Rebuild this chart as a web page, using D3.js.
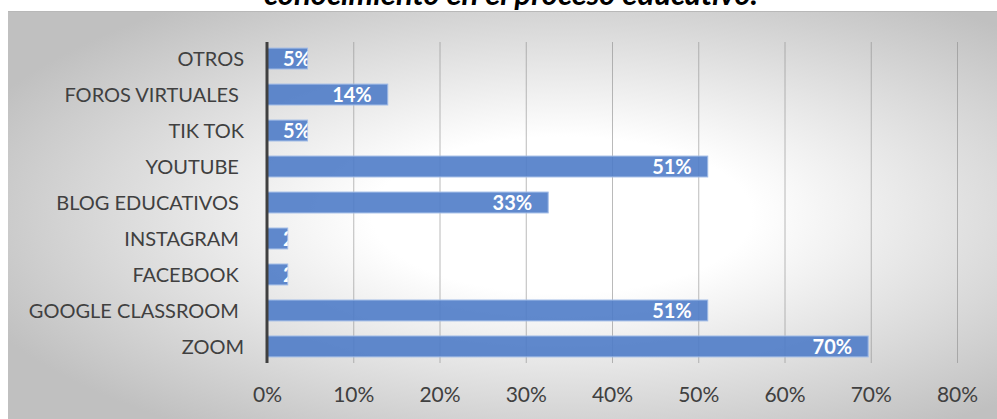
<!DOCTYPE html>
<html>
<head>
<meta charset="utf-8">
<script src="https://cdn.jsdelivr.net/npm/d3@7"></script>
<style>
  html, body { margin: 0; padding: 0; background: #fff; }
  svg { display: block; font-family: Lato, "Open Sans", sans-serif; }
</style>
</head>
<body>
<svg id="chart" width="997" height="419"></svg>
<script>
// datos (el orden del dominio va de arriba hacia abajo)
const categorias = ["OTROS", "FOROS VIRTUALES ", "TIK TOK", "YOUTUBE ", "BLOG EDUCATIVOS ",
                    "INSTAGRAM ", "FACEBOOK ", "GOOGLE CLASSROOM ", "ZOOM"];
const valores = [0.047, 0.14, 0.047, 0.511, 0.326, 0.024, 0.024, 0.511, 0.697];
const ticks = [0, 0.1, 0.2, 0.3, 0.4, 0.5, 0.6, 0.7, 0.8];
const titulo = "conocimiento en el proceso educativo.";

const svg = d3.select("#chart");
const W = 997, H = 419;

// fondo con degradado radial
const defs = svg.append("defs");
const grad = defs.append("radialGradient").attr("id", "fondo")
    .attr("cx", 0.56).attr("cy", 0.5).attr("r", 0.64);
grad.append("stop").attr("offset", 0).attr("stop-color", "#ffffff");
grad.append("stop").attr("offset", 0.3).attr("stop-color", "#ffffff");
grad.append("stop").attr("offset", 1).attr("stop-color", "#c0c0c0");

svg.append("rect").attr("x", 8).attr("y", 11).attr("width", W - 8).attr("height", H - 11)
    .attr("fill", "url(#fondo)");
svg.append("line").attr("x1", 8).attr("x2", W).attr("y1", 11.5).attr("y2", 11.5)
    .attr("stroke", "#b8b8b8").attr("stroke-width", 1);

// titulo (cortado arriba, como en el original)
svg.append("text").attr("x", 511).attr("y", 5)
    .attr("text-anchor", "middle")
    .style("font-size", "31px").style("font-weight", "bold").style("font-style", "italic")
    .attr("fill", "#000").text(titulo);

// escalas
const x = d3.scaleLinear().domain([0, 0.8]).range([267, 957]);
const y = d3.scaleBand().domain(categorias).range([42, 363])
    .paddingInner(0.42).paddingOuter(0.17);

// lineas de cuadricula
svg.append("g")
    .attr("transform", "translate(0,363)")
    .call(d3.axisBottom(x).tickValues(ticks).tickSize(-321).tickFormat(""))
    .call(g => g.select(".domain").remove())
    .call(g => g.selectAll(".tick line").attr("stroke", "#8c8c8c").attr("stroke-opacity", 0.6));

// etiquetas del eje x
svg.append("g")
    .attr("transform", "translate(0,363)")
    .call(d3.axisBottom(x).tickValues(ticks).tickSize(0).tickPadding(0).tickFormat(d3.format(".0%")))
    .call(g => g.select(".domain").remove())
    .call(g => g.selectAll(".tick text")
        .attr("y", 39).attr("dy", null)
        .style("font-size", "21px").style("font-family", "Lato, sans-serif")
        .attr("fill", "#404040"));

// barras
const barras = svg.append("g").selectAll("g.barra")
    .data(categorias.map((c, i) => ({ cat: c, val: valores[i], i })))
    .join("g").attr("class", "barra");

barras.append("clipPath").attr("id", d => "clip" + d.i)
    .append("rect")
    .attr("x", x(0)).attr("y", d => y(d.cat))
    .attr("width", d => x(d.val) - x(0)).attr("height", y.bandwidth());

barras.append("rect")
    .attr("x", x(0)).attr("y", d => y(d.cat))
    .attr("width", d => x(d.val) - x(0)).attr("height", y.bandwidth())
    .attr("fill", "#4f7cc8").attr("fill-opacity", 0.9)
    .attr("stroke", "#9fbae6").attr("stroke-width", 1);

// etiquetas de datos (extremo interno, recortadas a la barra)
barras.append("text")
    .attr("clip-path", d => `url(#clip${d.i})`)
    .attr("y", d => y(d.cat) + y.bandwidth() / 2)
    .attr("dy", "0.36em")
    .style("font-size", "20px").style("font-weight", "bold")
    .attr("fill", "#fff")
    .text(d => d3.format(".0%")(d.val))
    .each(function(d) {
        const w = this.getComputedTextLength();
        const xl = Math.max(x(d.val) - 16 - w, x(0) + 16);
        d3.select(this).attr("x", xl);
    });

// eje vertical
svg.append("line").attr("x1", 267).attr("x2", 267).attr("y1", 42).attr("y2", 363)
    .attr("stroke", "#404040").attr("stroke-width", 3);

// etiquetas de categorias
svg.append("g").selectAll("text")
    .data(categorias)
    .join("text")
    .attr("x", 244)
    .attr("y", d => y(d) + y.bandwidth() / 2)
    .attr("dy", "0.36em")
    .attr("text-anchor", "end")
    .style("white-space", "pre")
    .style("font-size", "20px")
    .attr("fill", "#404040")
    .text(d => d);
</script>
</body>
</html>
